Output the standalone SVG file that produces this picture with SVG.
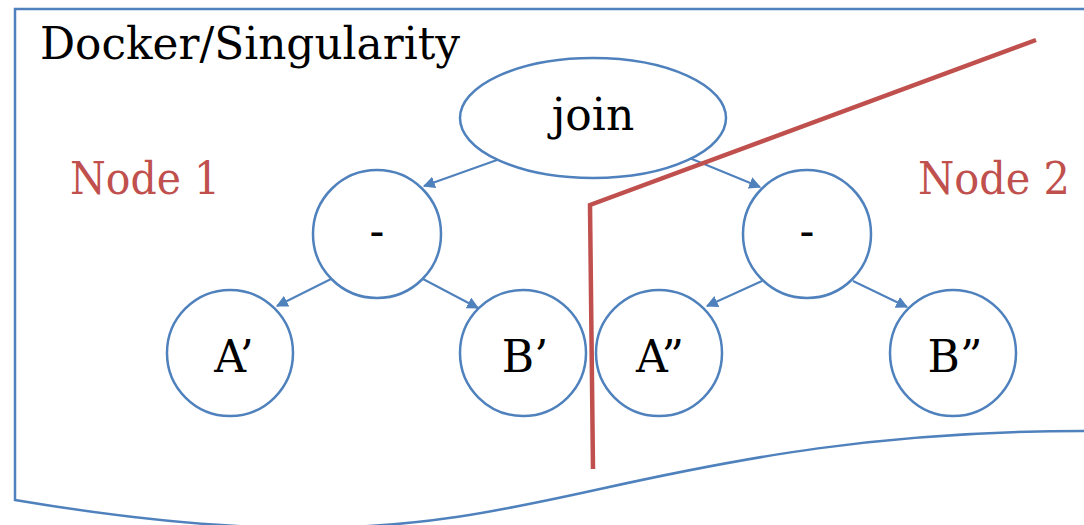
<svg xmlns="http://www.w3.org/2000/svg" width="1084" height="525" viewBox="0 0 1084 525">
<defs>
<marker id="ah" viewBox="0 0 10 10" refX="9" refY="5" markerWidth="6" markerHeight="6" orient="auto" markerUnits="strokeWidth">
<path d="M0,0 L10,5 L0,10 z" fill="#4F81BD"/>
</marker>
</defs>
<style>
.shape{fill:#fff;stroke:#4F81BD;stroke-width:2.5}
.serif{font-family:"DejaVu Serif","Liberation Serif",serif;font-size:44px}
.lbl{fill:#000;text-anchor:middle}
.red{fill:#C0504D}
.edge{stroke:#4F81BD;stroke-width:2;fill:none;marker-end:url(#ah)}
</style>
<rect width="1084" height="525" fill="#fff"/>
<g id="container">
<path d="M1084,9 L15,9 L15,500 C110,516 210,528 305,528 C420,528 500,511 600,489 C740,458 880,431 1084,431" fill="none" stroke="#4F81BD" stroke-width="2.5"/>
<text class="serif" x="40" y="59" textLength="420" lengthAdjust="spacingAndGlyphs">Docker/Singularity</text>
</g>
<g id="node1-label"><text class="serif red" x="70" y="194" textLength="150" lengthAdjust="spacingAndGlyphs">Node 1</text></g>
<g id="node2-label"><text class="serif red" x="918" y="194" textLength="152" lengthAdjust="spacingAndGlyphs">Node 2</text></g>
<g id="connectors">
<line class="edge" x1="497" y1="160" x2="424" y2="186"/>
<line class="edge" x1="687" y1="157" x2="760" y2="187"/>
<line class="edge" x1="331" y1="279" x2="277" y2="306"/>
<line class="edge" x1="423" y1="279" x2="478" y2="308"/>
<line class="edge" x1="762" y1="281" x2="707" y2="306"/>
<line class="edge" x1="853" y1="281" x2="907" y2="307"/>
</g>
<g id="join"><ellipse class="shape" cx="593" cy="118" rx="133" ry="60"/><text class="serif lbl" x="593" y="130" font-size="42">join</text></g>
<g id="minus1"><circle class="shape" cx="377" cy="234" r="64"/><text class="serif lbl" x="377" y="246">-</text></g>
<g id="minus2"><circle class="shape" cx="807" cy="234" r="64"/><text class="serif lbl" x="807" y="246">-</text></g>
<g id="A1"><circle class="shape" cx="230" cy="353" r="63"/><text class="serif lbl" x="234" y="372">A’</text></g>
<g id="B1"><circle class="shape" cx="523" cy="353" r="63"/><text class="serif lbl" x="525" y="372">B’</text></g>
<g id="A2"><circle class="shape" cx="659" cy="353" r="63"/><text class="serif lbl" x="660" y="372">A”</text></g>
<g id="B2"><circle class="shape" cx="953" cy="353" r="63"/><text class="serif lbl" x="955" y="372">B”</text></g>
<g id="partition">
<polyline points="593,469 590,205 1036,40" fill="none" stroke="#C0504D" stroke-width="4.5"/>
</g>
</svg>
